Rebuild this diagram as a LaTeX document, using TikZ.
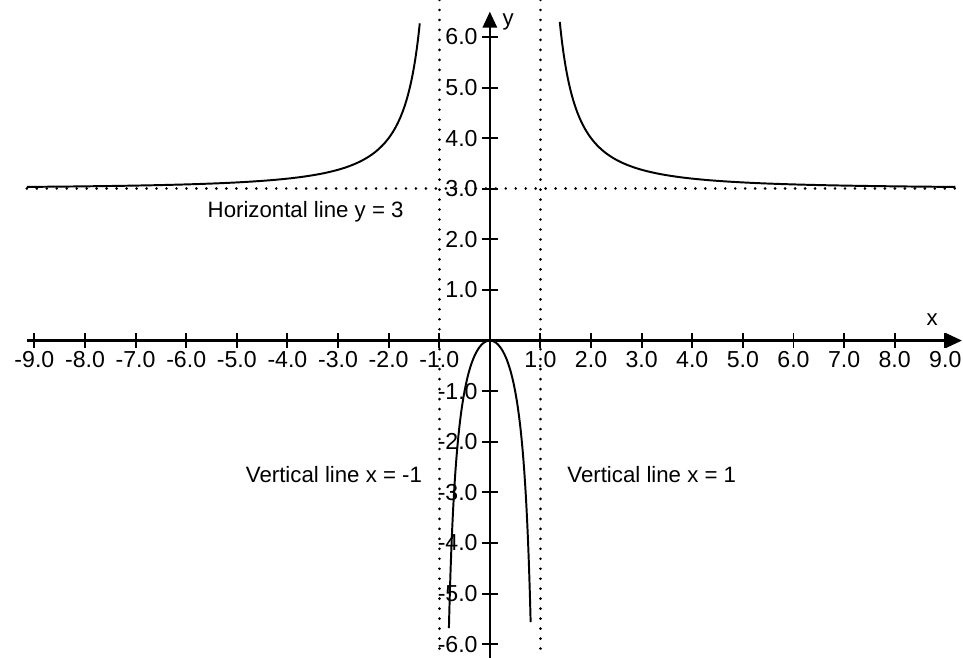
\documentclass[tikz,border=0pt]{standalone}
\usepackage{fontspec}
\setmainfont{Liberation Sans}
\usetikzlibrary{arrows.meta}

\begin{document}
\begin{tikzpicture}[x=1cm, y=1cm,
    every node/.style={font=\fontsize{12.5}{14}\selectfont, inner sep=1pt},
    ticklabel/.style={font=\fontsize{13}{15}\selectfont},
    axis/.style={line width=1.3pt, -{Triangle[length=9pt,width=8pt]}},
    tickmark/.style={line width=1.1pt},
    asym/.style={line width=1.6pt, dash pattern=on 0.01pt off 5.6pt, line cap=round},
    graph/.style={line width=1.1pt, smooth, samples=300}]
        \useasboundingbox (-9.68,-6.27) rectangle (9.35,6.73);

        % asymptotes
        \coordinate (vl top) at (-1,6.73);
        \coordinate (vl bot) at (-1,-6.27);
        \coordinate (vr top) at (1,6.73);
        \coordinate (vr bot) at (1,-6.27);
        \coordinate (h left) at (-9.15,3);
        \coordinate (h right) at (9.2,3);
        \draw[asym] (vl top) -- (vl bot);
        \draw[asym] (vr top) -- (vr bot);
        \draw[asym] (h left) -- (h right);

        % axes
        \coordinate (x start) at (-9.15,0);
        \coordinate (x end) at (9.33,0);
        \coordinate (y start) at (0,-6.27);
        \coordinate (y end) at (0,6.5);
        \draw[axis] (x start) -- (x end);
        \draw[axis] (y start) -- (y end);
        \node (xlab) at (8.74,0.41) {x};
        \node (ylab) at (0.36,6.3) {y};

        \foreach \v in {-9,...,-1,1,2,...,9} {
            \draw[tickmark] (\v,-0.14) -- (\v,0.14);
            \node[ticklabel, anchor=north] (xt\v) at (\v,-0.17) {\v.0};
        }
        \foreach \v in {-6,...,-1,1,2,...,6} {
            \draw[tickmark] (-0.16,\v) -- (0.16,\v);
            \node[ticklabel, anchor=east] (yt\v) at (-0.2,\v) {\v.0};
        }

        % y = 3x^2/(x^2-1)
        \draw[graph, domain=-9.15:-1.382] plot (\x, {3*\x*\x/(\x*\x-1)});
        \draw[graph, domain=1.382:9.2] plot (\x, {3*\x*\x/(\x*\x-1)});
        \draw[graph, domain=-0.809:0.809] plot (\x, {3*\x*\x/(\x*\x-1)});

        \node (hnote) at (-3.64,2.54) {Horizontal line y = 3};
        \node (vlnote) at (-3.08,-2.64) {Vertical line x = -1};
        \node (vrnote) at (3.2,-2.64) {Vertical line x = 1};
      \end{tikzpicture}
\end{document}
